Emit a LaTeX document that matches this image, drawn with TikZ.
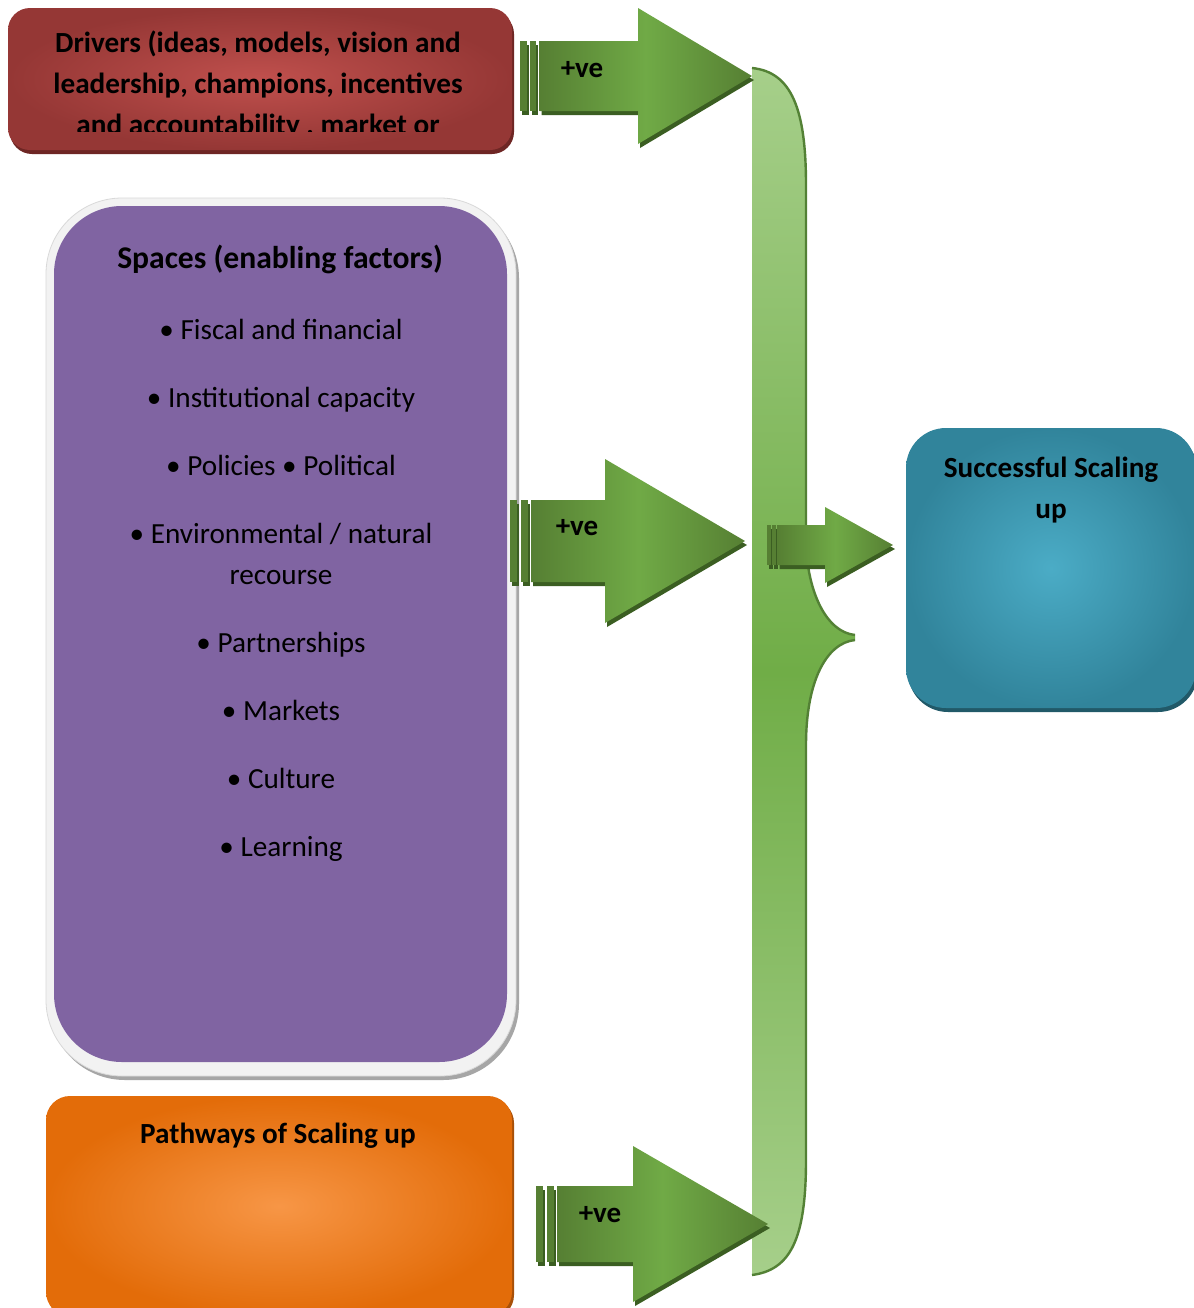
\documentclass[tikz,border=0pt]{standalone}
\usepackage{fontspec}
\setmainfont{Carlito}
\usetikzlibrary{positioning,shadows}

\definecolor{drvDark}{HTML}{953735}
\definecolor{drvLight}{HTML}{C0504D}
\definecolor{drvShadow}{HTML}{6E2624}
\definecolor{spcPurple}{HTML}{8064A2}
\definecolor{spcRim}{HTML}{F2F2F2}
\definecolor{pthDark}{HTML}{E36C09}
\definecolor{pthLight}{HTML}{F79646}
\definecolor{pthShadow}{HTML}{A85008}
\definecolor{sucDark}{HTML}{31849B}
\definecolor{sucLight}{HTML}{4BACC6}
\definecolor{sucShadow}{HTML}{215968}
\definecolor{arrDark}{HTML}{567F33}
\definecolor{arrMid}{HTML}{70AA46}
\definecolor{arrShadow}{HTML}{3B5E22}
\definecolor{brcLight}{HTML}{A6CF8A}
\definecolor{brcMid}{HTML}{70AD47}
\definecolor{brcLine}{HTML}{538135}

% block arrow: bar width, tail x, head x, tip x, mid y, half body, half head
\newcommand{\plusarrow}[7]{%
  \def\arrowpath{({#2+3*#1},{#5-#6}) -- (#3,{#5-#6}) -- (#3,{#5-#7}) -- (#4,#5)
    -- (#3,{#5+#7}) -- (#3,{#5+#6}) -- ({#2+3*#1},{#5+#6}) -- cycle}%
  \begin{scope}[shift={(2,4)}]
    \fill[arrShadow] \arrowpath;
    \fill[arrShadow] (#2,{#5-#6}) rectangle ({#2+#1},{#5+#6});
    \fill[arrShadow] ({#2+1.5*#1},{#5-#6}) rectangle ({#2+2.5*#1},{#5+#6});
  \end{scope}
  \shade[left color=arrDark, right color=arrDark, middle color=arrMid] \arrowpath;
  \fill[arrDark] (#2,{#5-#6}) rectangle ({#2+#1},{#5+#6});
  \fill[arrDark] ({#2+1.5*#1},{#5-#6}) rectangle ({#2+2.5*#1},{#5+#6});
}

\begin{document}
\begin{tikzpicture}[x=0.5pt, y=-0.5pt,
    every node/.style={font=\fontsize{14.6}{20.5}\selectfont},
    boxtext/.style={font=\bfseries\fontsize{14.6}{20.5}\selectfont, align=center, inner sep=0pt},
    sign/.style={font=\bfseries\fontsize{14.5}{16}\selectfont, inner sep=0pt},
    drvbox/.style={rounded corners=11pt, minimum width=252pt, minimum height=71pt,
      inner color=drvLight, outer color=drvDark,
      drop shadow={fill=drvShadow, shadow xshift=1pt, shadow yshift=-2pt, opacity=1}},
    rimbox/.style={rounded corners=38pt, minimum width=235pt, minimum height=439pt,
      fill=spcRim, draw=black!15,
      drop shadow={fill=black!35, shadow xshift=1.5pt, shadow yshift=-2pt, opacity=1}},
    spcbox/.style={rounded corners=34pt, minimum width=226.5pt, minimum height=428pt,
      fill=spcPurple},
    pthbox/.style={rounded corners=12pt, minimum width=233pt, minimum height=110pt,
      inner color=pthLight, outer color=pthDark,
      drop shadow={fill=pthShadow, shadow xshift=1pt, shadow yshift=-1.5pt, opacity=1}},
    sucbox/.style={rounded corners=20pt, minimum width=145pt, minimum height=140pt,
      inner color=sucLight, outer color=sucDark,
      drop shadow={fill=sucShadow, shadow xshift=1pt, shadow yshift=-2pt, opacity=1}}]
  \useasboundingbox[fill=white] (0,0) rectangle (1194,1308);

  % boxes
  \node[drvbox] (drivers) at (260,79) {};
  \node[rimbox] (rim) at (281,637) {};
  \node[spcbox] (spaces) at (280.5,634) {};
  \node[pthbox] (pathways) at (279,1206) {};
  \node[sucbox] (success) at (1051,568) {};

  % box texts
  \begin{scope}
    \clip (8,8) rectangle (512,131);
    \node[boxtext, anchor=north] (drvtext) at (258,30)
      {Drivers (ideas, models, vision and\\leadership, champions, incentives\\and accountability , market or};
  \end{scope}
  \node[font=\bfseries\fontsize{15.8}{18}\selectfont, inner sep=0pt] (spctitle) at (280,259)
    {Spaces (enabling factors)};
  \node[align=center, anchor=north, inner sep=0pt] (spclist) at (281,319)
    {• Fiscal and financial\\[13.5pt]
     • Institutional capacity\\[13.5pt]
     • Policies • Political\\[13.5pt]
     • Environmental / natural\\recourse\\[13.5pt]
     • Partnerships\\[13.5pt]
     • Markets\\[13.5pt]
     • Culture\\[13.5pt]
     • Learning};
  \node[boxtext] (pthtext) at (278,1136) {Pathways of Scaling up};
  \node[boxtext, anchor=north] (suctext) at (1051,457) {Successful Scaling\\up};

  % brace
  \shade[top color=brcLight, bottom color=brcLight, middle color=brcMid]
    (752,68) .. controls (792,72) and (806,110) .. (806,185) -- (806,545)
    .. controls (808,592) and (826,632) .. (855,635) -- (855,640)
    .. controls (826,643) and (806,682) .. (806,745) -- (806,1160)
    .. controls (806,1240) and (790,1270) .. (752,1275) -- cycle;
  \draw[brcLine, line width=1.2pt]
    (752,68) .. controls (792,72) and (806,110) .. (806,185) -- (806,545)
    .. controls (808,592) and (826,632) .. (855,635);
  \draw[brcLine, line width=1.2pt]
    (855,640) .. controls (826,643) and (806,682) .. (806,745) -- (806,1160)
    .. controls (806,1240) and (790,1270) .. (752,1275);

  % arrows
  \plusarrow{6.5}{520}{638}{752}{76}{35}{68}
  \plusarrow{7}{510}{605}{745}{541}{41}{82}
  \plusarrow{7}{536}{633}{768}{1224}{38}{78}
  \plusarrow{3.5}{767}{825}{893}{545}{20}{38}

  \node[sign] (signA) at (582,70) {+ve};
  \node[sign] (signB) at (577,528) {+ve};
  \node[sign] (signC) at (600,1215) {+ve};
\end{tikzpicture}
\end{document}
